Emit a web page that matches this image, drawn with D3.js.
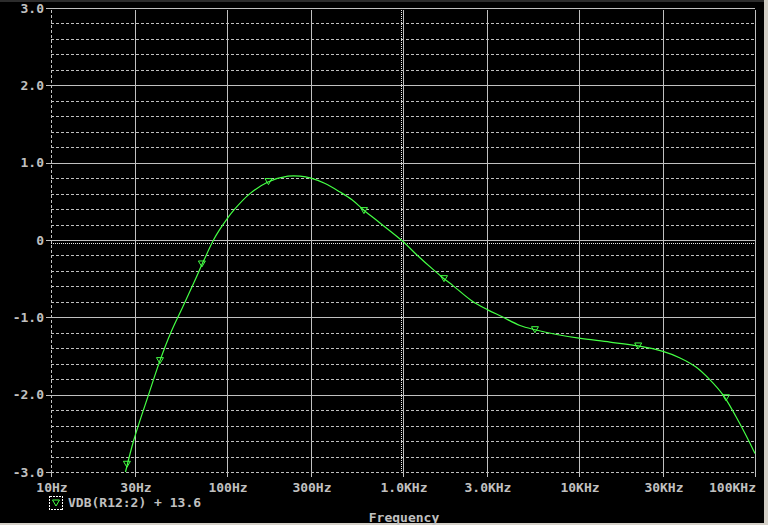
<!DOCTYPE html>
<html>
<head>
<meta charset="utf-8">
<script src="https://cdn.jsdelivr.net/npm/d3@7/dist/d3.min.js"></script>
<style>
  html, body { margin: 0; padding: 0; background: #000; }
  svg { display: block; }
  text { font-family: "DejaVu Sans Mono", monospace; font-weight: bold; font-size: 13px; fill: #c0c0c0; }
</style>
</head>
<body>
<svg id="chart" width="768" height="525"></svg>
<script>
// ---- data ----
const freqs = [26.5, 29.6, 36.2, 41.6, 48.1, 56.2, 64.9, 74.0, 83.8, 91.2, 101.3, 109.6, 135, 171, 222, 260, 300, 361, 439, 513, 600, 740, 1000, 1196, 1481, 1710, 1923, 2455, 3013, 3639, 4621, 5623, 7600, 10000, 15000, 21630, 30000, 37500, 46000, 55000, 66070, 82220, 100000];
const vdb   = [-3.0, -2.58, -1.97, -1.56, -1.19, -0.86, -0.55, -0.26, 0.0, 0.14, 0.29, 0.39, 0.60, 0.75, 0.825, 0.825, 0.80, 0.73, 0.62, 0.52, 0.385, 0.22, -0.02, -0.19, -0.38, -0.50, -0.59, -0.785, -0.90, -0.99, -1.105, -1.16, -1.225, -1.27, -1.32, -1.37, -1.44, -1.525, -1.64, -1.80, -2.01, -2.38, -2.76];
const markerFreqs  = [27.0, 41.6, 72, 172, 600, 1710, 5620, 21700, 68400];
const markerValues = [-2.90, -1.56, -0.31, 0.755, 0.38, -0.50, -1.16, -1.37, -2.04];
const xTickValues = [10, 30, 100, 300, 1000, 3000, 10000, 30000, 100000];
const xTickLabels = ["10Hz", "30Hz", "100Hz", "300Hz", "1.0KHz", "3.0KHz", "10KHz", "30KHz", "100KHz"];
const yTickValues = [3, 2, 1, 0, -1, -2, -3];
const yTickLabels = ["3.0", "2.0", "1.0", "0", "-1.0", "-2.0", "-3.0"];
const yMinorValues = d3.range(-30, 31, 2).map(v => v / 10).filter(v => Math.abs(Math.round(v) - v) > 1e-6);
const cursorFreq = 975, cursorValue = -0.045;
const legendLabel = "VDB(R12:2) + 13.6";
const xTitle = "Frequency";

// ---- layout ----
const svg = d3.select("#chart");
const L = 51, R = 755, T = 8, B = 472;
const x = d3.scaleLog().domain([10, 100000]).range([L, R]);
const y = d3.scaleLinear().domain([-3, 3]).range([B, T]);
const grid = "#c0c0c0";
const green = "#44ff44";

// window chrome
svg.append("rect").attr("x", 0).attr("y", 0).attr("width", 768).attr("height", 2).attr("fill", "#2c2c2c");
svg.append("rect").attr("x", 0).attr("y", 523).attr("width", 768).attr("height", 2).attr("fill", "#d4d0c8");
svg.append("rect").attr("x", 764).attr("y", 0).attr("width", 4).attr("height", 525).attr("fill", "#d4d0c8");

const g = svg.append("g").attr("shape-rendering", "crispEdges");

// minor dashed horizontal grid
g.selectAll(".hminor").data(yMinorValues).enter().append("line")
  .attr("x1", L).attr("x2", R - 1)
  .attr("y1", d => Math.round(y(d)) + 0.5).attr("y2", d => Math.round(y(d)) + 0.5)
  .attr("stroke", grid).attr("stroke-dasharray", "3,2");

// major solid horizontal grid (excluding bottom which is dashed)
g.selectAll(".hmajor").data(yTickValues.filter(v => v > -3)).enter().append("line")
  .attr("x1", L).attr("x2", R)
  .attr("y1", d => Math.round(y(d)) + 0.5).attr("y2", d => Math.round(y(d)) + 0.5)
  .attr("stroke", grid);
// bottom dashed border
g.append("line").attr("x1", L).attr("x2", R)
  .attr("y1", Math.round(y(-3)) + 0.5).attr("y2", Math.round(y(-3)) + 0.5)
  .attr("stroke", grid).attr("stroke-dasharray", "3,2");

// vertical grid lines (interior) solid
g.selectAll(".vmajor").data(xTickValues.slice(1, -1)).enter().append("line")
  .attr("x1", d => Math.round(x(d)) + 0.5).attr("x2", d => Math.round(x(d)) + 0.5)
  .attr("y1", T + 2).attr("y2", B)
  .attr("stroke", grid);
// left dashed border, right solid border
g.append("line").attr("x1", L + 0.5).attr("x2", L + 0.5).attr("y1", T + 2).attr("y2", B)
  .attr("stroke", grid).attr("stroke-dasharray", "3,2");
g.append("line").attr("x1", R + 0.5).attr("x2", R + 0.5).attr("y1", T + 2).attr("y2", B + 4)
  .attr("stroke", grid);

// ticks
g.selectAll(".ytick").data(yTickValues).enter().append("line")
  .attr("x1", L - 5).attr("x2", L)
  .attr("y1", d => Math.round(y(d)) + 0.5).attr("y2", d => Math.round(y(d)) + 0.5)
  .attr("stroke", grid);
g.selectAll(".xtick").data(xTickValues).enter().append("line")
  .attr("x1", d => Math.round(x(d)) + 0.5).attr("x2", d => Math.round(x(d)) + 0.5)
  .attr("y1", B).attr("y2", B + 5)
  .attr("stroke", grid);

// cursor dotted crosshair
g.append("line").attr("x1", L).attr("x2", R)
  .attr("y1", Math.round(y(cursorValue)) + 0.5).attr("y2", Math.round(y(cursorValue)) + 0.5)
  .attr("stroke", "#e8e8e8").attr("stroke-dasharray", "1,1");
g.append("line").attr("x1", Math.round(x(cursorFreq)) + 0.5).attr("x2", Math.round(x(cursorFreq)) + 0.5)
  .attr("y1", T + 2).attr("y2", B)
  .attr("stroke", "#e8e8e8").attr("stroke-dasharray", "1,1");

// axis labels
svg.selectAll(".ylab").data(yTickValues).enter().append("text")
  .attr("x", 44).attr("y", d => y(d)).attr("dy", "0.36em")
  .attr("text-anchor", "end").text((d, i) => yTickLabels[i]);
svg.selectAll(".xlab").data(xTickValues).enter().append("text")
  .attr("x", d => x(d) + 1)
  .attr("y", 492)
  .attr("text-anchor", (d, i) => i === xTickValues.length - 1 ? "end" : "middle")
  .text((d, i) => xTickLabels[i]);
svg.append("text").attr("x", 404).attr("y", 522).attr("text-anchor", "middle").text(xTitle);

// curve
svg.append("clipPath").attr("id", "plotclip").append("rect")
  .attr("x", L).attr("y", T).attr("width", R - L + 1).attr("height", B - T + 1);
const pts = freqs.map((f, i) => [f, vdb[i]]);
const line = d3.line().x(d => x(d[0])).y(d => y(d[1])).curve(d3.curveCatmullRom.alpha(0.5));
svg.append("path").attr("d", line(pts)).attr("fill", "none")
  .attr("stroke", green).attr("stroke-width", 1.2).attr("clip-path", "url(#plotclip)");

// markers (hollow down triangles)
const tri = (cx, cy) => `M${cx - 3.5},${cy - 3} L${cx + 3.5},${cy - 3} L${cx},${cy + 3} Z`;
svg.selectAll(".mk").data(markerFreqs).enter().append("path")
  .attr("d", (d, i) => tri(x(d), y(markerValues[i])))
  .attr("fill", "none").attr("stroke", green).attr("stroke-width", 1);

// legend
svg.append("rect").attr("x", 49.5).attr("y", 496.5).attr("width", 13).attr("height", 13)
  .attr("fill", "none").attr("stroke", "#ffffff").attr("stroke-dasharray", "2,1").attr("shape-rendering", "crispEdges");
svg.append("path").attr("d", tri(56, 503)).attr("fill", "none").attr("stroke", green);
svg.append("text").attr("x", 68).attr("y", 507).text(legendLabel);
</script>
</body>
</html>
